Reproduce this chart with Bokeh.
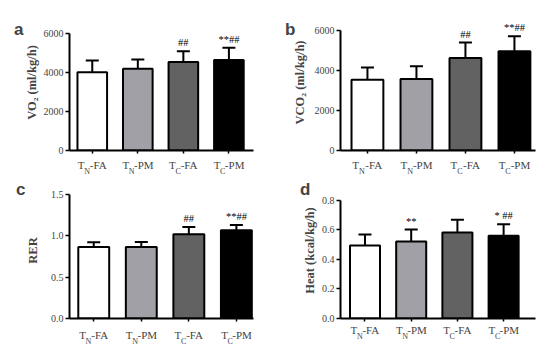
from bokeh.plotting import figure
from bokeh.layouts import gridplot
from bokeh.models import FixedTicker, LinearAxis, Whisker, TeeHead, ColumnDataSource, Range1d
from bokeh.core.properties import value
from bokeh.embed import file_html
from bokeh.resources import INLINE

# ---- data ----
tick_main = ["T", "T", "T", "T"]
tick_sub = ["N", "N", "C", "C"]
tick_rest = ["-FA", "-PM", "-FA", "-PM"]
bar_colors = ["#ffffff", "#a0a0a6", "#626262", "#000000"]

vo2 = [4000, 4180, 4520, 4630]
vo2_upper = [4600, 4650, 5070, 5250]
vo2_sig = ["", "", "##", "**##"]

vco2 = [3530, 3560, 4610, 4950]
vco2_upper = [4140, 4200, 5380, 5690]
vco2_sig = ["", "", "##", "**##"]

rer = [0.866, 0.866, 1.02, 1.067]
rer_upper = [0.922, 0.926, 1.107, 1.131]
rer_sig = ["", "", "##", "**##"]

heat = [0.495, 0.521, 0.583, 0.560]
heat_upper = [0.570, 0.603, 0.669, 0.639]
heat_sig = ["", "**", "", "* ##"]

SERIF = "Liberation Serif"
SANS = "Liberation Sans"

W_MAIN = {"T": 0.611}
W_SUB = {"N": 0.722, "C": 0.667}
W_REST = {"-FA": 0.333 + 0.556 + 0.722, "-PM": 0.333 + 0.556 + 0.889}


def panel(vals, upper, sig, ylabel, yticks, ylabels, ymax, letter, geo):
    fig_x, fig_y, width, height = geo["fig"]
    fl, fr = geo["frame_x"]
    ftop = geo["frame_top"]
    top_px, zero_px = geo["ymax_px"], geo["zero_px"]
    x0, x1 = geo["xr"]
    per_px = ymax / (zero_px - top_px)
    y_end = ymax + (top_px - ftop) * per_px
    bl = fl - fig_x
    br = fig_x + width - fr
    bt = ftop - fig_y
    bb = fig_y + height - zero_px
    p = figure(width=width, height=height, output_backend="svg", toolbar_location=None,
               x_range=Range1d(x0, x1), y_range=Range1d(0, y_end),
               min_border_left=bl, min_border_right=br, min_border_top=bt, min_border_bottom=bb)
    p.outline_line_color = None
    p.grid.grid_line_color = None
    xs = [i + 0.5 for i in range(len(vals))]
    src = ColumnDataSource(dict(x=xs, top=vals, upper=upper, color=bar_colors))
    p.vbar(x="x", top="top", width=0.65, source=src, fill_color="color",
           line_color="black", line_width=2)
    p.add_layout(Whisker(base="x", lower="top", upper="upper", source=src,
                         line_color="black", line_width=2, lower_head=None,
                         upper_head=TeeHead(size=13, line_color="black", line_width=2)))
    sx = [x for x, s in zip(xs, sig) if s]
    sy = [u for u, s in zip(upper, sig) if s]
    st = [s for s in sig if s]
    if st:
        p.text(x=sx, y=sy, text=st, text_align="center", text_baseline="bottom",
               y_offset=-3, text_font=value(SERIF),
               text_font_size="10.5px", text_color="black")
    # y axis
    ya = p.yaxis[0]
    ya.bounds = (0, ymax)
    ya.ticker = FixedTicker(ticks=yticks)
    ya.major_label_overrides = {t: l for t, l in zip(yticks, ylabels)}
    ya.minor_tick_line_color = None
    ya.major_tick_in = 0
    ya.major_tick_out = 4
    ya.major_tick_line_width = 1.5
    ya.axis_line_width = 2
    ya.major_label_text_font = SERIF
    ya.major_label_text_font_size = "10px"
    ya.major_label_standoff = 2
    ya.axis_label = ylabel
    ya.axis_label_text_font = SERIF
    ya.axis_label_text_font_style = "bold"
    ya.axis_label_text_font_size = "12.5px"
    ya.axis_label_standoff = geo["ylab_standoff"]
    # panel letter as an outer left axis with a single tick
    letter_val = ymax + (top_px - geo["letter_center"]) * per_px
    la = LinearAxis(ticker=FixedTicker(ticks=[letter_val]),
                    major_label_overrides={letter_val: letter},
                    axis_line_color=None, major_tick_line_color=None,
                    minor_tick_line_color=None, major_tick_out=0, major_tick_in=0,
                    major_label_text_font=SANS, major_label_text_font_style="bold",
                    major_label_text_font_size="17px",
                    major_label_standoff=geo["letter_standoff"])
    p.add_layout(la, "left")
    # x axis: tick marks (minor) at bar centres, labels as pieces (major)
    ppu = (fr - fl) / (x1 - x0)
    fs, fsub = 11, 8
    main_pos, main_txt, sub_pos, sub_txt = [], [], [], []
    for x, m, s, r in zip(xs, tick_main, tick_sub, tick_rest):
        wm, ws, wr = W_MAIN[m] * fs, W_SUB[s] * fsub, W_REST[r] * fs
        left = -(wm + ws + wr) / 2
        main_pos += [x + (left + wm / 2) / ppu, x + (left + wm + ws + wr / 2) / ppu]
        main_txt += [m, r]
        sub_pos.append(x + (left + wm + ws / 2) / ppu)
        sub_txt.append(s)
    xa = p.xaxis[0]
    xa.ticker = FixedTicker(ticks=main_pos, minor_ticks=xs)
    xa.major_label_overrides = dict(zip(main_pos, main_txt))
    xa.major_tick_line_color = None
    xa.major_tick_in = 0
    xa.major_tick_out = 0
    xa.minor_tick_in = 0
    xa.minor_tick_out = 3
    xa.minor_tick_line_width = 1.5
    xa.axis_line_width = 2
    xa.major_label_text_font = SERIF
    xa.major_label_text_font_size = f"{fs}px"
    xa.major_label_standoff = geo["xlab_standoff"]
    sa = LinearAxis(ticker=FixedTicker(ticks=sub_pos),
                    major_label_overrides=dict(zip(sub_pos, sub_txt)),
                    axis_line_color=None, major_tick_line_color=None,
                    minor_tick_line_color=None, major_tick_out=0, major_tick_in=0,
                    major_label_text_font=SERIF, major_label_text_font_size=f"{fsub}px",
                    major_label_standoff=-7)
    p.add_layout(sa, "below")
    return p


pa = panel(vo2, vo2_upper, vo2_sig, "VO\u2082 (ml/kg/h)", [0, 2000, 4000, 6000],
           ["0", "2000", "4000", "6000"], 6000, "a",
           dict(fig=(0, 0, 275, 178), frame_x=(69, 262), frame_top=14,
                ymax_px=33, zero_px=153, xr=(0, 4.04), letter_center=29,
                letter_standoff=-2, xlab_standoff=5, ylab_standoff=2))
pb = panel(vco2, vco2_upper, vco2_sig, "VCO\u2082 (ml/kg/h)", [0, 2000, 4000, 6000],
           ["0", "2000", "4000", "6000"], 6000, "b",
           dict(fig=(275, 0, 274, 178), frame_x=(340, 535), frame_top=14,
                ymax_px=30, zero_px=153, xr=(-0.05, 3.93), letter_center=29,
                letter_standoff=-6, xlab_standoff=5, ylab_standoff=5))
pc = panel(rer, rer_upper, rer_sig, "RER", [0, 0.5, 1.0, 1.5],
           ["0.0", "0.5", "1.0", "1.5"], 1.5, "c",
           dict(fig=(0, 178, 275, 177), frame_x=(60, 253), frame_top=182,
                ymax_px=194, zero_px=318, xr=(-0.01, 3.86), letter_center=189,
                letter_standoff=-3, xlab_standoff=7, ylab_standoff=8))
pd = panel(heat, heat_upper, heat_sig, "Heat (kcal/kg/h)", [0, 0.2, 0.4, 0.6, 0.8],
           ["0.0", "0.2", "0.4", "0.6", "0.8"], 0.8, "d",
           dict(fig=(275, 178, 274, 177), frame_x=(338, 546), frame_top=182,
                ymax_px=201, zero_px=326, xr=(-0.03, 4.19), letter_center=189,
                letter_standoff=-11, xlab_standoff=2, ylab_standoff=2))

grid = gridplot([[pa, pb], [pc, pd]], toolbar_location=None)
open("out.html", "w").write(file_html(grid, INLINE))
